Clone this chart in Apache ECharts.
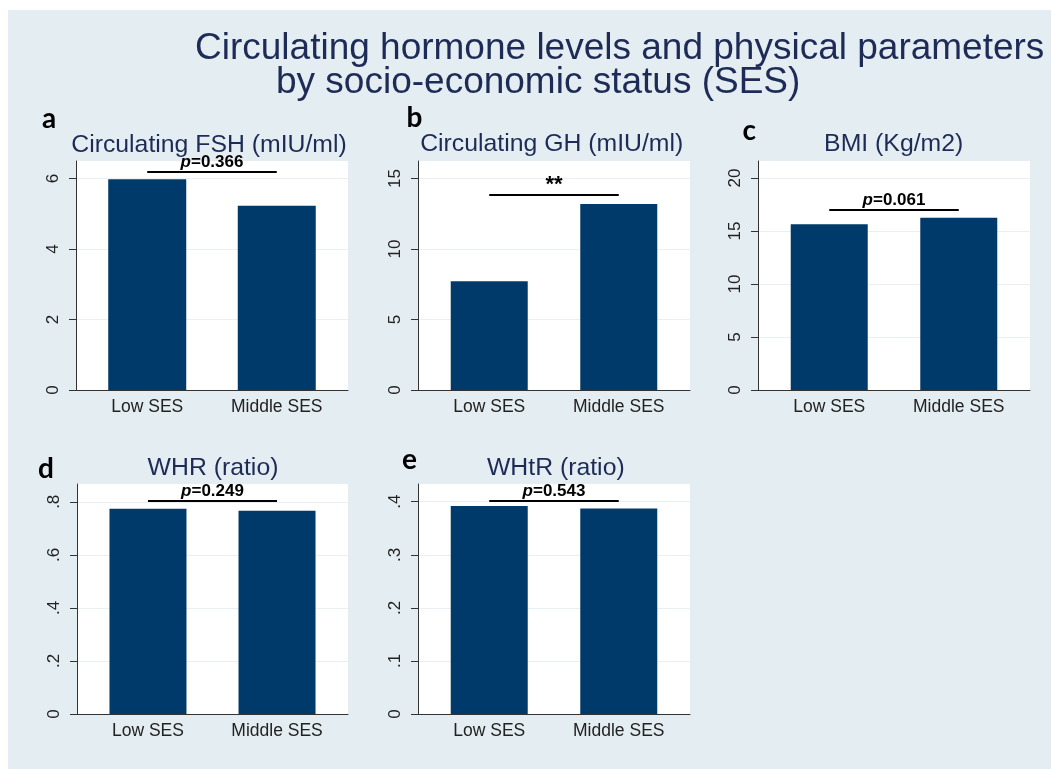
<!DOCTYPE html>
<html><head><meta charset="utf-8">
<script src="https://cdn.jsdelivr.net/npm/echarts@6/dist/echarts.min.js"></script>
<style>html,body{margin:0;padding:0;background:#fff}#c{width:1051px;height:769px}</style>
</head><body><div id="c"></div>
<script>
// ---- data ----
const categories = ['Low SES', 'Middle SES'];
const panelLetters = ['a', 'b', 'c', 'd', 'e'];
const panelTitles = ['Circulating FSH (mIU/ml)', 'Circulating GH (mIU/ml)', 'BMI (Kg/m2)', 'WHR (ratio)', 'WHtR (ratio)'];
const fshValues = [5.98, 5.23];
const ghValues = [7.71, 13.19];
const bmiValues = [15.63, 16.25];
const whrValues = [0.774, 0.766];
const whtrValues = [0.392, 0.387];
const fshTicks = [0, 2, 4, 6];
const ghTicks = [0, 5, 10, 15];
const bmiTicks = [0, 5, 10, 15, 20];
const whrTicks = [0, 0.2, 0.4, 0.6, 0.8];
const whtrTicks = [0, 0.1, 0.2, 0.3, 0.4];
const axisMax = [6.5, 16.24, 21.6, 0.867, 0.4334];
const sigLabels = ['p=0.366', '**', 'p=0.061', 'p=0.249', 'p=0.543'];
const sigLevels = [6.19, 13.88, 16.98, 0.804, 0.402];
const mainTitle1 = 'Circulating hormone levels and physical parameters';
const mainTitle2 = 'by socio-economic status (SES)';

// ---- layout / style ----
const values = [fshValues, ghValues, bmiValues, whrValues, whtrValues];
const ticks = [fshTicks, ghTicks, bmiTicks, whrTicks, whtrTicks];
const grids = [
  {left: 76, top: 161, width: 272, height: 229},
  {left: 418, top: 161, width: 272, height: 229},
  {left: 758, top: 161, width: 272, height: 229},
  {left: 77, top: 484, width: 271, height: 230},
  {left: 418, top: 484, width: 272, height: 230}
];
const barWidths = [78, 77, 77, 77, 77];
const titlePos = [[209, 145.5], [551.7, 143.7], [893.7, 143.7], [213, 468.3], [555.8, 468.3]];
const letterPos = [[42, 118.5], [406.5, 117.8], [742.5, 131], [38, 468.5], [402, 459.5]];
const BG = '#e4edf1';
const BAR = '#003a6b';
const NAVY = '#1d2b56';
const FONT = '"Liberation Sans", Arial, sans-serif';

const fmtY = v => {
  const s = String(+(+v).toFixed(4));
  return s.replace(/^0\./, '.');
};

const option = {
  backgroundColor: BG,
  animation: false,
  grid: grids.map(g => Object.assign({show: true, backgroundColor: '#ffffff', borderWidth: 0, containLabel: false}, g)),
  xAxis: grids.map((g, i) => ({
    type: 'value', gridIndex: i, min: -0.55, max: 1.55, position: 'bottom',
    axisLine: {show: true, onZero: false, lineStyle: {color: '#333', width: 1}},
    axisTick: {show: false},
    splitLine: {show: false},
    axisLabel: {customValues: [0, 1], formatter: v => categories[Math.round(v)] || '', color: '#222', fontSize: 17.5, fontFamily: FONT, margin: 8}
  })),
  yAxis: grids.map((g, i) => ({
    type: 'value', gridIndex: i, min: 0, max: axisMax[i], position: 'left',
    axisLine: {show: true, onZero: false, lineStyle: {color: '#333', width: 1}},
    axisTick: {show: true, length: 7, customValues: ticks[i], lineStyle: {color: '#333', width: 1}},
    splitLine: {show: true, lineStyle: {color: '#e8f0f3', width: 1}},
    axisLabel: {customValues: ticks[i], formatter: fmtY, rotate: 90, color: '#222', fontSize: 17, fontFamily: FONT, margin: 14}
  })),
  series: values.map((vals, i) => ({
    type: 'bar', xAxisIndex: i, yAxisIndex: i,
    barWidth: barWidths[i],
    itemStyle: {color: BAR},
    data: vals.map((v, k) => [k, v]),
    markLine: {
      silent: true, symbol: ['none', 'none'], animation: false,
      lineStyle: {color: '#000', width: 2, type: 'solid'},
      label: {
        show: true, position: 'middle', distance: sigLabels[i] === '**' ? -2 : 1,
        formatter: () => sigLabels[i].startsWith('p') ? '{i|p}{b|' + sigLabels[i].slice(1) + '}' : '{s|' + sigLabels[i] + '}',
        rich: {
          i: {fontStyle: 'italic', fontWeight: 'bold', fontSize: 17, fontFamily: FONT, color: '#000'},
          b: {fontWeight: 'bold', fontSize: 17, fontFamily: FONT, color: '#000'},
          s: {fontWeight: 'bold', fontSize: 22, fontFamily: FONT, color: '#000'}
        }
      },
      data: [[{coord: [0, sigLevels[i]]}, {coord: [1, sigLevels[i]]}]]
    }
  })),
  graphic: [
    {type: 'rect', shape: {x: 0, y: 0, width: 1051, height: 10}, style: {fill: '#fff'}, silent: true},
    {type: 'rect', shape: {x: 0, y: 0, width: 8, height: 769}, style: {fill: '#fff'}, silent: true},
    {type: 'text', x: 195, y: 49.2, style: {text: mainTitle1, font: '37px ' + FONT, fill: NAVY, align: 'left', verticalAlign: 'middle'}},
    {type: 'text', x: 276, y: 82.5, style: {text: mainTitle2, font: '37px ' + FONT, fill: NAVY, align: 'left', verticalAlign: 'middle'}}
  ].concat(panelTitles.map((t, i) => ({
    type: 'text', x: titlePos[i][0], y: titlePos[i][1],
    style: {text: t, font: '24.8px ' + FONT, fill: NAVY, align: 'center', verticalAlign: 'middle'}
  }))).concat(panelLetters.map((t, i) => ({
    type: 'text', x: letterPos[i][0], y: letterPos[i][1],
    style: {text: t, font: 'bold 28px Lato, "Open Sans", sans-serif', fill: '#000', align: 'left', verticalAlign: 'middle'}
  })))
};
const chart = echarts.init(document.getElementById('c'), null, {renderer: 'canvas'});
chart.setOption(option);
</script></body></html>
